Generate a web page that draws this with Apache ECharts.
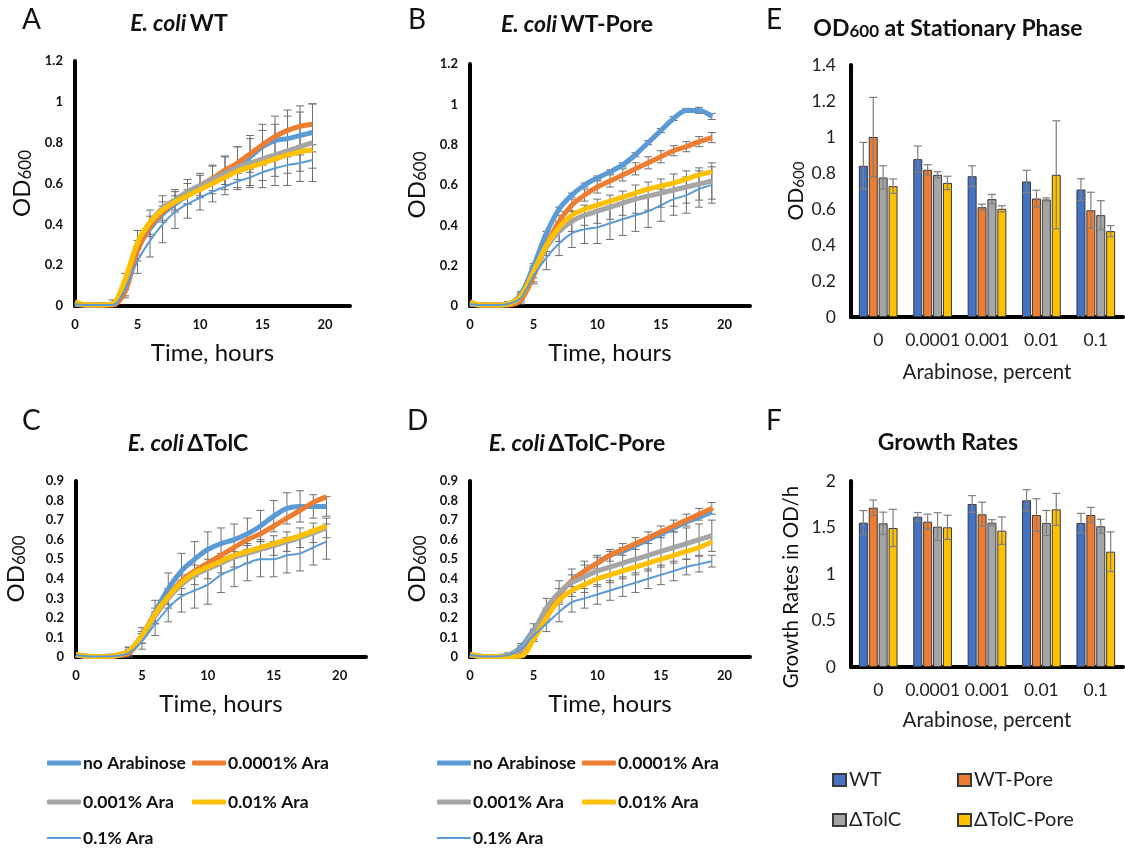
<!DOCTYPE html>
<html><head><meta charset="utf-8">
<script src="https://cdn.jsdelivr.net/npm/echarts@6/dist/echarts.min.js"></script>
<style>html,body{margin:0;padding:0;background:#fff}#c{width:1125px;height:852px}</style>
</head><body><div id="c"></div><script>
// ---------- DATA ----------
const hours = [0,1,2,3,4,5,6,7,8,9,10,11,12,13,14,15,16,17,18,19];
const condNames = ['no Arabinose','0.0001% Ara','0.001% Ara','0.01% Ara','0.1% Ara'];

// Panel A: E. coli WT
const A_noAra = [0.01,0.005,0.005,0.01,0.10,0.28,0.38,0.45,0.50,0.54,0.58,0.61,0.645,0.68,0.73,0.78,0.81,0.82,0.835,0.85];
const A_ara0001 = [0.01,0.005,0.005,0.005,0.07,0.27,0.39,0.46,0.51,0.55,0.59,0.625,0.665,0.70,0.745,0.79,0.83,0.86,0.88,0.89];
const A_ara001 = [0.01,0.005,0.005,0.01,0.12,0.31,0.41,0.48,0.52,0.56,0.59,0.62,0.65,0.68,0.70,0.72,0.74,0.76,0.78,0.80];
const A_ara01 = [0.02,0.005,0.005,0.01,0.13,0.31,0.41,0.47,0.51,0.54,0.57,0.60,0.63,0.66,0.68,0.70,0.72,0.74,0.755,0.765];
const A_ara1 = [0.01,0.005,0.005,0.005,0.08,0.22,0.32,0.40,0.46,0.50,0.53,0.56,0.585,0.61,0.63,0.655,0.675,0.69,0.70,0.715];
const A_err0001 = [0,0,0,0.01,0.03,0.05,0.05,0.05,0.05,0.05,0.05,0.06,0.07,0.08,0.09,0.10,0.10,0.10,0.10,0.10];
const A_err001 = [0,0,0,0.02,0.04,0.06,0.06,0.06,0.05,0.06,0.06,0.07,0.08,0.10,0.12,0.14,0.15,0.17,0.17,0.19];
const A_err1 = [0,0,0,0.01,0.03,0.06,0.08,0.09,0.08,0.07,0.06,0.05,0.04,0.04,0.04,0.04,0.04,0.04,0.04,0.04];

// Panel B: E. coli WT-Pore
const B_noAra = [0.01,0.005,0.005,0.01,0.06,0.20,0.36,0.48,0.55,0.60,0.635,0.665,0.70,0.75,0.81,0.87,0.93,0.97,0.97,0.94];
const B_ara0001 = [0.01,0.005,0.005,0.005,0.03,0.15,0.30,0.42,0.50,0.55,0.59,0.62,0.65,0.68,0.71,0.74,0.77,0.79,0.815,0.835];
const B_ara001 = [0.01,0.005,0.005,0.01,0.05,0.17,0.29,0.37,0.42,0.45,0.47,0.49,0.51,0.53,0.545,0.56,0.575,0.59,0.605,0.62];
const B_ara01 = [0.02,0.005,0.005,0.01,0.05,0.17,0.30,0.39,0.45,0.48,0.50,0.52,0.54,0.56,0.58,0.595,0.61,0.63,0.65,0.665];
const B_ara1 = [0.01,0.005,0.005,0.01,0.04,0.15,0.24,0.31,0.36,0.38,0.39,0.41,0.43,0.45,0.47,0.50,0.53,0.55,0.58,0.60];
const B_errNo = [0,0,0,0.005,0.01,0.01,0.01,0.01,0.01,0.01,0.01,0.01,0.01,0.01,0.01,0.01,0.01,0.01,0.015,0.015];
const B_err0001 = [0,0,0,0.01,0.02,0.03,0.03,0.03,0.03,0.03,0.03,0.03,0.03,0.03,0.03,0.03,0.025,0.025,0.025,0.025];
const B_err001 = [0,0,0,0.01,0.02,0.03,0.04,0.05,0.05,0.05,0.06,0.06,0.06,0.07,0.07,0.07,0.08,0.08,0.08,0.09];
const B_err1 = [0,0,0,0.01,0.02,0.04,0.06,0.06,0.07,0.07,0.08,0.08,0.08,0.08,0.08,0.08,0.08,0.09,0.09,0.09];

// Panel C: E. coli ΔTolC
const C_noAra = [0.01,0.003,0.003,0.005,0.03,0.11,0.23,0.35,0.44,0.50,0.55,0.58,0.60,0.63,0.67,0.72,0.76,0.77,0.77,0.77];
const C_ara0001 = [0.01,0.003,0.003,0.005,0.02,0.10,0.22,0.31,0.39,0.44,0.48,0.52,0.56,0.60,0.63,0.67,0.71,0.75,0.79,0.82];
const C_ara001 = [0.01,0.003,0.003,0.008,0.03,0.10,0.21,0.30,0.37,0.42,0.45,0.48,0.51,0.53,0.55,0.57,0.59,0.61,0.635,0.66];
const C_ara01 = [0.015,0.003,0.003,0.008,0.03,0.11,0.22,0.31,0.38,0.43,0.46,0.49,0.52,0.54,0.56,0.58,0.60,0.62,0.645,0.67];
const C_ara1 = [0.01,0.003,0.003,0.005,0.02,0.08,0.17,0.25,0.31,0.34,0.37,0.42,0.45,0.48,0.50,0.50,0.52,0.53,0.56,0.59];
const C_errNo = [0,0,0,0.01,0.02,0.04,0.06,0.08,0.09,0.09,0.09,0.08,0.08,0.08,0.08,0.08,0.08,0.08,0.06,0.05];
const C_err001 = [0,0,0,0.01,0.02,0.03,0.04,0.05,0.05,0.05,0.05,0.05,0.05,0.05,0.05,0.05,0.05,0.05,0.05,0.05];
const C_err1 = [0,0,0,0.005,0.02,0.04,0.06,0.07,0.08,0.09,0.10,0.09,0.09,0.09,0.09,0.09,0.09,0.09,0.09,0.09];

// Panel D: E. coli ΔTolC-Pore
const D_noAra = [0.01,0.003,0.003,0.01,0.05,0.14,0.23,0.32,0.39,0.44,0.48,0.52,0.54,0.57,0.60,0.63,0.66,0.69,0.715,0.74];
const D_ara0001 = [0.01,0.003,0.003,0.005,0.01,0.10,0.22,0.32,0.39,0.44,0.48,0.52,0.55,0.58,0.61,0.64,0.67,0.70,0.73,0.76];
const D_ara001 = [0.01,0.003,0.003,0.01,0.04,0.13,0.25,0.33,0.38,0.41,0.44,0.46,0.48,0.50,0.52,0.54,0.56,0.58,0.60,0.62];
const D_ara01 = [0.015,0.003,0.003,0.003,0.005,0.09,0.20,0.29,0.34,0.37,0.40,0.42,0.44,0.46,0.48,0.50,0.52,0.54,0.56,0.59];
const D_ara1 = [0.01,0.003,0.003,0.01,0.04,0.11,0.17,0.23,0.28,0.30,0.32,0.34,0.36,0.38,0.40,0.42,0.44,0.46,0.475,0.49];
const D_err0001 = [0,0,0,0.005,0.01,0.02,0.03,0.03,0.03,0.03,0.03,0.03,0.03,0.03,0.03,0.03,0.03,0.03,0.03,0.03];
const D_err001 = [0,0,0,0.01,0.03,0.04,0.05,0.06,0.07,0.08,0.08,0.08,0.08,0.08,0.08,0.08,0.08,0.08,0.08,0.08];
const D_err1 = [0,0,0,0.01,0.02,0.03,0.04,0.05,0.05,0.05,0.05,0.05,0.05,0.05,0.05,0.05,0.05,0.04,0.04,0.03];

// Panels E & F: bars
const araCats = ['0','0.0001','0.001','0.01','0.1'];
const strainNames = ['WT','WT-Pore','ΔTolC','ΔTolC-Pore'];
const od_WT = [0.84,0.877,0.782,0.753,0.708];
const od_WTPore = [1.0,0.818,0.61,0.658,0.593];
const od_TolC = [0.775,0.79,0.655,0.653,0.566];
const od_TolCPore = [0.727,0.745,0.601,0.79,0.477];
const odErr_WT = [0.13,0.073,0.058,0.062,0.06];
const odErr_WTPore = [0.22,0.028,0.017,0.046,0.10];
const odErr_TolC = [0.065,0.017,0.026,0.009,0.08];
const odErr_TolCPore = [0.04,0.037,0.017,0.30,0.031];
const gr_WT = [1.552,1.616,1.753,1.792,1.548];
const gr_WTPore = [1.713,1.563,1.642,1.634,1.634];
const gr_TolC = [1.545,1.509,1.552,1.548,1.513];
const gr_TolCPore = [1.495,1.502,1.466,1.695,1.24];
const grErr_WT = [0.13,0.045,0.09,0.115,0.104];
const grErr_WTPore = [0.083,0.08,0.13,0.175,0.082];
const grErr_TolC = [0.12,0.15,0.032,0.135,0.075];
const grErr_TolCPore = [0.20,0.13,0.147,0.172,0.213];

// ---------- STYLE ----------
const FONT = 'Lato, "Open Sans", sans-serif';
const lineColors = ['#5B9BD5','#ED7D31','#A5A5A5','#FFC000','#5B9BD5'];
const lineWidths = [5,5,5,5,2];
const barColors = ['#4472C4','#ED7D31','#A5A5A5','#FFC000'];

const panels = [
  {grid:{left:75, top:61, width:275, height:245}, ymax:1.2, yint:0.2, nameGap:41,
   series:[A_noAra,A_ara0001,A_ara001,A_ara01,A_ara1], errs:[[1,A_err0001],[2,A_err001],[4,A_err1]]},
  {grid:{left:470, top:64, width:280, height:242}, ymax:1.2, yint:0.2, nameGap:41,
   series:[B_noAra,B_ara0001,B_ara001,B_ara01,B_ara1], errs:[[0,B_errNo],[1,B_err0001],[2,B_err001],[4,B_err1]]},
  {grid:{left:76, top:481, width:290, height:176}, ymax:0.9, yint:0.1, nameGap:48,
   series:[C_noAra,C_ara0001,C_ara001,C_ara01,C_ara1], errs:[[0,C_errNo],[2,C_err001],[4,C_err1]]},
  {grid:{left:470, top:481, width:280, height:176}, ymax:0.9, yint:0.1, nameGap:41,
   series:[D_noAra,D_ara0001,D_ara001,D_ara01,D_ara1], errs:[[1,D_err0001],[2,D_err001],[4,D_err1]]}
];

const grids = [], xAxes = [], yAxes = [], series = [];
const odRich = {
  o: {fontFamily: FONT, fontSize: 24, color: '#111', verticalAlign: 'bottom', lineHeight: 28},
  s: {fontFamily: FONT, fontSize: 17, color: '#111', verticalAlign: 'bottom', lineHeight: 28}
};

function lineErrRender(params, api) {
  const x = api.value(0), v = api.value(1), e = api.value(2);
  if (!e) return null;
  const t = api.coord([x, v + e]);
  const b = api.coord([x, Math.max(0, v - e)]);
  const hw = 4;
  const st = {stroke: '#6f6f6f', lineWidth: 1};
  return {type: 'group', children: [
    {type: 'line', shape: {x1: t[0], y1: t[1], x2: b[0], y2: b[1]}, style: st},
    {type: 'line', shape: {x1: t[0]-hw, y1: t[1], x2: t[0]+hw, y2: t[1]}, style: st},
    {type: 'line', shape: {x1: b[0]-hw, y1: b[1], x2: b[0]+hw, y2: b[1]}, style: st}
  ]};
}

panels.forEach((p, gi) => {
  grids.push(Object.assign({containLabel: false, outerBoundsMode: 'none'}, p.grid));
  xAxes.push({
    gridIndex: gi, type: 'value', min: 0, max: 22, interval: 5,
    axisLine: {show: true, onZero: true, lineStyle: {color: '#000', width: 4}},
    axisTick: {show: false}, splitLine: {show: false},
    axisLabel: {margin: 12, fontFamily: FONT, fontWeight: 'bold', fontSize: 13, color: '#111',
      showMaxLabel: false, formatter: v => (v % 5 === 0 ? String(v) : '')},
    name: 'Time, hours', nameLocation: 'middle', nameGap: 35,
    nameTextStyle: {fontFamily: FONT, fontSize: 24, color: '#111'}
  });
  yAxes.push({
    gridIndex: gi, type: 'value', min: 0, max: p.ymax, interval: p.yint,
    axisLine: {show: true, lineStyle: {color: '#000', width: 4}},
    axisTick: {show: false}, splitLine: {show: false},
    axisLabel: {margin: 12, fontFamily: FONT, fontWeight: 'bold', fontSize: 13, color: '#111'},
    name: '{o|OD}{s|600}', nameLocation: 'middle', nameRotate: 90, nameGap: p.nameGap,
    nameTextStyle: {rich: odRich}
  });
  p.errs.forEach(([si, arr]) => {
    series.push({
      type: 'custom', xAxisIndex: gi, yAxisIndex: gi, silent: true, z: 1,
      renderItem: lineErrRender, encode: {x: 0, y: 1},
      data: hours.map((h, i) => [h, p.series[si][i], arr[i]])
    });
  });
  p.series.forEach((arr, si) => {
    series.push({
      type: 'line', name: condNames[si], xAxisIndex: gi, yAxisIndex: gi, z: 2 + si,
      smooth: 0.35, showSymbol: false, symbol: 'none',
      itemStyle: {color: lineColors[si]},
      lineStyle: {color: lineColors[si], width: lineWidths[si]},
      data: hours.map((h, i) => [h, arr[i]])
    });
  });
});

// Bar panels
const barPanels = [
  {grid:{left:851, top:65, width:272, height:252}, ymax:1.4, yint:0.2,
   vals:[od_WT,od_WTPore,od_TolC,od_TolCPore], errs:[odErr_WT,odErr_WTPore,odErr_TolC,odErr_TolCPore],
   yText: '{o|OD}{s|600}', yStyle: {rich: {
     o:{fontFamily: FONT, fontSize: 21, color:'#111', verticalAlign:'bottom', lineHeight: 25},
     s:{fontFamily: FONT, fontSize: 15, color:'#111', verticalAlign:'bottom', lineHeight: 25}}},
   nameGapX: 44, xGap: 45},
  {grid:{left:851, top:481, width:272, height:186}, ymax:2, yint:0.5,
   vals:[gr_WT,gr_WTPore,gr_TolC,gr_TolCPore], errs:[grErr_WT,grErr_WTPore,grErr_TolC,grErr_TolCPore],
   yText: '', yStyle: {},
   nameGapX: 43, xGap: 43}
];
const BAR_W = 9, BAR_GAP = 0.9;
function barErrRender(params, api) {
  const ci = api.value(0), v = api.value(1), e = api.value(2), si = api.value(3);
  const c = api.coord([ci, v]);
  const total = 4 * BAR_W + 3 * BAR_GAP;
  const cx = c[0] - total / 2 + BAR_W / 2 + si * (BAR_W + BAR_GAP);
  const t = api.coord([ci, v + e])[1], b = api.coord([ci, Math.max(0, v - e)])[1];
  const hw = 4;
  const st = {stroke: '#7f7f7f', lineWidth: 1.2};
  return {type: 'group', children: [
    {type: 'line', shape: {x1: cx, y1: t, x2: cx, y2: b}, style: st},
    {type: 'line', shape: {x1: cx-hw, y1: t, x2: cx+hw, y2: t}, style: st},
    {type: 'line', shape: {x1: cx-hw, y1: b, x2: cx+hw, y2: b}, style: st}
  ]};
}
barPanels.forEach((p) => {
  const gi = grids.length;
  grids.push(Object.assign({containLabel: false, outerBoundsMode: 'none'}, p.grid));
  xAxes.push({
    gridIndex: gi, type: 'category', data: araCats,
    axisLine: {show: true, lineStyle: {color: '#000', width: 4}},
    axisTick: {show: false}, splitLine: {show: false},
    axisLabel: {interval: 0, hideOverlap: false, margin: 14, fontFamily: FONT, fontSize: 17.5, color: '#222'},
    name: 'Arabinose, percent', nameLocation: 'middle', nameGap: p.xGap,
    nameTextStyle: {fontFamily: FONT, fontSize: 20.5, color: '#222'}
  });
  yAxes.push({
    gridIndex: gi, type: 'value', min: 0, max: p.ymax, interval: p.yint,
    axisLine: {show: true, lineStyle: {color: '#000', width: 4}},
    axisTick: {show: false}, splitLine: {show: false},
    axisLabel: {margin: 15, fontFamily: FONT, fontSize: 17.5, color: '#222'},
    name: p.yText, nameLocation: 'middle', nameRotate: 90, nameGap: p.nameGapX,
    nameTextStyle: p.yStyle
  });
  p.vals.forEach((arr, si) => {
    series.push({
      type: 'bar', name: strainNames[si], xAxisIndex: gi, yAxisIndex: gi,
      barWidth: BAR_W, barGap: '10%', z: 2,
      itemStyle: {color: barColors[si], borderColor: '#3a3a3a', borderWidth: 1},
      data: arr
    });
  });
  const errData = [];
  p.vals.forEach((arr, si) => arr.forEach((v, ci) => errData.push([ci, v, p.errs[si][ci], si])));
  series.push({
    type: 'custom', xAxisIndex: gi, yAxisIndex: gi, silent: true, z: 5,
    renderItem: barErrRender, encode: {x: 0, y: 1}, data: errData
  });
});

// Legends
const legends = [];
function lineLegend(name, left, top, h) {
  legends.push({
    data: [name], left: left, top: top, padding: 0, orient: 'horizontal',
    icon: 'roundRect', itemWidth: 34, itemHeight: h,
    textStyle: {fontFamily: FONT, fontWeight: 'bold', fontSize: 17.5, color: '#111', padding: [0,0,0,-3]}
  });
}
[0, 390].forEach(dx => {
  lineLegend(condNames[0], 47 + dx, 754, 5);
  lineLegend(condNames[1], 192 + dx, 754, 5);
  lineLegend(condNames[2], 47 + dx, 793, 5);
  lineLegend(condNames[3], 192 + dx, 793, 5);
  lineLegend(condNames[4], 47 + dx, 829, 2);
});
function barLegend(name, left, top) {
  legends.push({
    data: [name], left: left, top: top, padding: 0, icon: 'rect', itemWidth: 13, itemHeight: 12,
    textStyle: {fontFamily: FONT, fontSize: 20, color: '#222', padding: [0,0,0,-2]}
  });
}
barLegend('WT', 832, 770);
barLegend('WT-Pore', 957, 770);
barLegend('ΔTolC', 832, 810);
barLegend('ΔTolC-Pore', 957, 810);

// Texts: panel letters and titles
function letter(t, x, y) {
  return {type: 'text', left: x, top: y, style: {text: t, font: '28px ' + FONT, fill: '#111'}};
}
function titleText(strain, cx, cy) {
  return {type: 'text', x: cx, y: cy, style: {
    text: '{i|E. coli} {b|' + strain + '}', textAlign: 'center', textVerticalAlign: 'middle',
    rich: {
      i: {fontFamily: FONT, fontSize: 23, fontWeight: 'bold', fontStyle: 'italic', fill: '#111', color: '#111'},
      b: {fontFamily: FONT, fontSize: 23, fontWeight: 'bold', fill: '#111', color: '#111'}
    }
  }};
}
const graphics = [
  letter('A', 22, 6), letter('B', 408, 6), letter('C', 22, 407), letter('D', 407, 407),
  letter('E', 766, 6), letter('F', 766, 407),
  titleText('WT', 179, 24), titleText('WT-Pore', 577, 25),
  titleText('ΔTolC', 188, 444), titleText('ΔTolC-Pore', 577, 444),
  {type: 'text', x: 948, y: 26, style: {
    text: '{o|OD}{s|600}{o| at Stationary Phase}', textAlign: 'center', textVerticalAlign: 'middle',
    rich: {
      o: {fontFamily: FONT, fontSize: 23, fontWeight: 'bold', fill: '#111', color: '#111', verticalAlign: 'bottom', lineHeight: 28},
      s: {fontFamily: FONT, fontSize: 17, fontWeight: 'bold', fill: '#111', color: '#111', verticalAlign: 'bottom', lineHeight: 28}
    }
  }},
  {type: 'text', x: 948, y: 443, style: {
    text: 'Growth Rates', textAlign: 'center', textVerticalAlign: 'middle',
    font: 'bold 23px ' + FONT, fill: '#111'
  }},
  {type: 'text', x: 791, y: 587, rotation: Math.PI / 2, style: {
    text: 'Growth Rates in OD/h', textAlign: 'center', textVerticalAlign: 'middle',
    font: '20.5px ' + FONT, fill: '#111'
  }}
];

const chart = echarts.init(document.getElementById('c'), null, {renderer: 'canvas'});
chart.setOption({
  animation: false,
  backgroundColor: '#fff',
  grid: grids, xAxis: xAxes, yAxis: yAxes, series: series,
  legend: legends, graphic: graphics
});
</script></body></html>
